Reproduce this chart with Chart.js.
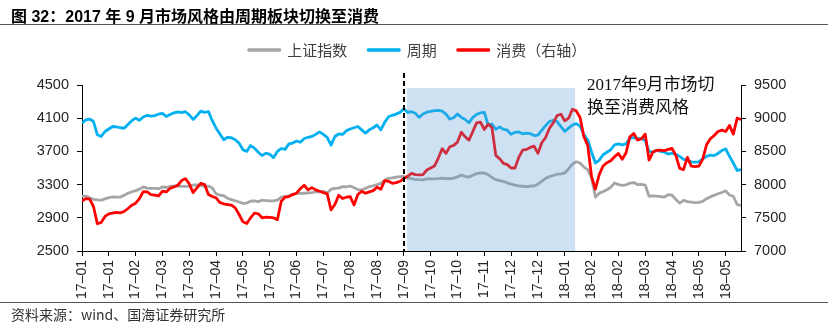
<!DOCTYPE html>
<html lang="zh-CN">
<head>
<meta charset="utf-8">
<title>2017 年 9 月市场风格由周期板块切换至消费</title>
<script src="https://cdn.jsdelivr.net/npm/chart.js@4.4.1/dist/chart.umd.min.js"></script>
<style>
  html, body { margin: 0; padding: 0; background: #fff; }
  #figure { position: relative; width: 835px; height: 324px; overflow: hidden; }
  #chart { position: absolute; left: 0; top: 0; }
  .caption { position: absolute; left: 11px; top: 3px; font: bold 16px "Liberation Sans", "Noto Sans CJK SC", sans-serif; color: #000; white-space: nowrap; }
  .rule { position: absolute; left: 0; width: 828px; height: 0; border-top: 1.5px solid #555; }
  .note { position: absolute; left: 587px; top: 73px; font: 17px/23px "Liberation Serif", "Noto Sans CJK SC", serif; color: #111; white-space: nowrap; }
  .source { position: absolute; left: 11px; top: 304px; font: 14px "Noto Sans CJK SC", sans-serif; color: #333; white-space: nowrap; }
</style>
</head>
<body>
<div id="figure">
  <canvas id="chart" width="835" height="324"></canvas>
  <div class="caption">图 32：2017 年 9 月市场风格由周期板块切换至消费</div>
  <div class="rule" style="top:24px"></div>
  <div class="note">2017年9月市场切<br>换至消费风格</div>
  <div class="rule" style="top:302px"></div>
  <div class="source">资料来源：wind、国海证券研究所</div>
</div>
<script>
// Axis labels, one every 7 samples (each sample = 2 trading days)
const tickLabels = [
  '17–01', '17–01', '17–02', '17–03', '17–03', '17–04', '17–05', '17–05',
  '17–06', '17–07', '17–08', '17–08', '17–09', '17–10', '17–10', '17–11',
  '17–12', '17–12', '18–01', '18–02', '18–02', '18–03', '18–04', '18–05', '18–05'
];

// 上证指数 (left axis)
const shanghai = [
  3160,3162,3140,3122,3115,3114,3128,3142,3152,3150,
  3150,3170,3195,3214,3228,3245,3272,3258,3255,3255,
  3250,3272,3265,3278,3283,3283,3278,3278,3278,3295,
  3295,3290,3278,3282,3258,3190,3172,3168,3135,3118,
  3105,3090,3074,3078,3100,3104,3095,3112,3108,3104,
  3103,3114,3148,3158,3165,3183,3195,3195,3196,3200,
  3204,3212,3214,3218,3200,3245,3255,3258,3275,3272,
  3283,3262,3240,3235,3255,3275,3285,3300,3315,3352,
  3376,3380,3390,3396,3398,3378,3372,3364,3360,3358,
  3368,3370,3370,3372,3378,3372,3372,3378,3392,3415,
  3400,3390,3412,3432,3440,3440,3420,3385,3360,3348,
  3340,3320,3305,3295,3285,3280,3275,3283,3283,3305,
  3340,3375,3396,3410,3425,3430,3440,3490,3548,3575,
  3560,3510,3480,3380,3150,3195,3215,3238,3268,3320,
  3300,3292,3298,3318,3325,3300,3302,3295,3160,3165,
  3160,3155,3150,3180,3172,3120,3078,3110,3095,3088,
  3082,3085,3098,3130,3152,3172,3190,3205,3225,3175,
  3160,3060,3050
];

// 周期 (left axis)
const cycle = [
  4040,4080,4090,4060,3900,3880,3940,3970,4000,3995,
  3985,3980,4025,4070,4100,4075,4115,4135,4125,4130,
  4150,4158,4120,4145,4165,4175,4168,4178,4140,4085,
  4130,4185,4170,4180,4070,3980,3910,3840,3870,3865,
  3840,3800,3720,3700,3770,3740,3690,3650,3680,3665,
  3625,3700,3735,3725,3790,3800,3825,3810,3855,3870,
  3880,3905,3935,3905,3870,3775,3880,3910,3905,3950,
  3970,3985,4000,3960,3920,3960,3985,4018,3960,4050,
  4118,4135,4150,4170,4215,4170,4178,4160,4110,4150,
  4172,4182,4190,4195,4185,4150,4090,4105,4150,4110,
  4085,4045,4110,4145,4165,4170,4020,4030,3965,3995,
  3965,3955,3905,3930,3935,3912,3920,3915,3890,3895,
  3955,4010,4060,4075,4060,3998,3940,3980,4018,4035,
  4005,3900,3840,3690,3560,3595,3660,3690,3720,3780,
  3790,3780,3790,3860,3865,3855,3855,3830,3700,3690,
  3715,3700,3690,3668,3680,3665,3640,3605,3595,3575,
  3570,3575,3610,3640,3655,3650,3675,3710,3730,3640,
  3560,3470,3480
];

// 消费 (right axis)
const consumer = [
  7750,7790,7780,7670,7410,7430,7520,7560,7570,7580,
  7575,7595,7640,7690,7720,7790,7895,7890,7850,7840,
  7830,7900,7890,7945,7965,7990,8060,8090,8010,7880,
  7950,8020,8000,7850,7820,7800,7730,7710,7700,7690,
  7650,7550,7440,7415,7500,7570,7560,7500,7510,7505,
  7500,7470,7750,7810,7820,7850,7870,7940,7990,7920,
  7955,7920,7900,7880,7860,7620,7700,7840,7790,7810,
  7820,7693,7850,7900,7870,7890,7910,7960,7930,8060,
  8050,8020,8030,8050,8090,8125,8170,8150,8145,8150,
  8220,8250,8280,8400,8540,8470,8570,8590,8640,8790,
  8720,8670,8800,8930,8940,8830,8910,8860,8440,8390,
  8320,8300,8250,8250,8410,8520,8530,8560,8580,8470,
  8630,8710,8848,8930,9040,9060,8960,9000,9134,9110,
  9010,8720,8590,8119,7930,8150,8280,8330,8360,8420,
  8470,8380,8480,8720,8770,8670,8690,8760,8370,8490,
  8515,8520,8510,8530,8546,8440,8245,8225,8410,8280,
  8270,8280,8380,8600,8690,8740,8800,8820,8800,8890,
  8760,9000,8980
];

const TICK_STEP = 7;
const sampleIndex = cycle.map((_, i) => i);

// Style switch: dashed marker at 2017-09 and the consumer-led period band
const SWITCH_AT = 84;
const BAND_FROM = 84.8;
const BAND_TO = 128.7;
const BAND_TOP = 4465;
const MARKER_TOP = 4645;

const styleSwitch = {
  id: 'styleSwitch',
  afterDatasetsDraw(chart) {
    const { ctx, chartArea, scales: { x, y } } = chart;
    const l = x.getPixelForValue(BAND_FROM);
    const r = x.getPixelForValue(BAND_TO);
    const t = y.getPixelForValue(BAND_TOP);
    ctx.save();
    ctx.fillStyle = 'rgba(91,155,213,0.3)';
    ctx.fillRect(l, t, r - l, chartArea.bottom - t);
    const xs = Math.round(x.getPixelForValue(SWITCH_AT));
    ctx.strokeStyle = '#000';
    ctx.lineWidth = 2;
    ctx.setLineDash([5, 3]);
    ctx.beginPath();
    ctx.moveTo(xs, y.getPixelForValue(MARKER_TOP));
    ctx.lineTo(xs, chartArea.bottom);
    ctx.stroke();
    ctx.restore();
  }
};

const latin = '"Liberation Sans", Arial, sans-serif';
const tickColor = '#262626';

new Chart(document.getElementById('chart'), {
  type: 'line',
  data: {
    labels: sampleIndex,
    datasets: [
      { label: '上证指数', data: shanghai, borderColor: '#a5a5a5', backgroundColor: '#a5a5a5', yAxisID: 'y', order: 3 },
      { label: '周期', data: cycle, borderColor: '#00b0f0', backgroundColor: '#00b0f0', yAxisID: 'y', order: 2 },
      { label: '消费（右轴）', data: consumer, borderColor: '#ff0000', backgroundColor: '#ff0000', yAxisID: 'y1', order: 1 }
    ]
  },
  options: {
    responsive: false,
    animation: false,
    events: [],
    layout: { padding: { top: 21.5 } },
    elements: {
      line: { borderWidth: 2.8, tension: 0, borderJoinStyle: 'round', fill: false },
      point: { radius: 0 }
    },
    plugins: {
      tooltip: { enabled: false },
      legend: {
        position: 'top',
        labels: {
          boxWidth: 31,
          boxHeight: 0.5,
          padding: 21,
          color: '#404040',
          font: { size: 15, family: '"Noto Sans CJK SC", sans-serif' },
          sort: (a, b) => a.datasetIndex - b.datasetIndex
        }
      },
      subtitle: {
        display: true,
        text: '',
        weight: 500,
        padding: { top: 8, bottom: 8.5 },
        font: { size: 1, lineHeight: 1 }
      }
    },
    scales: {
      x: {
        type: 'linear',
        min: 0,
        max: sampleIndex.length - 1,
        afterBuildTicks: (scale) => {
          scale.ticks = tickLabels.map((_, k) => ({ value: k * TICK_STEP }));
        },
        afterFit: (scale) => { scale.height = 73; },
        ticks: {
          autoSkip: false,
          minRotation: 90,
          maxRotation: 90,
          padding: 4,
          color: tickColor,
          font: { size: 14, family: latin },
          callback: (value, index) => tickLabels[index]
        },
        grid: { drawOnChartArea: false, tickLength: 5, color: '#000', lineWidth: 1 },
        border: { color: '#000', width: 1 }
      },
      y: {
        position: 'left',
        min: 2500,
        max: 4500,
        afterFit: (scale) => { scale.width = 82; },
        ticks: {
          stepSize: 400,
          padding: 8,
          color: tickColor,
          font: { size: 14.5, family: latin },
          callback: (v) => String(v)
        },
        grid: { drawOnChartArea: false, tickLength: 5, color: '#000', lineWidth: 1 },
        border: { color: '#000', width: 1 }
      },
      y1: {
        position: 'right',
        min: 7000,
        max: 9500,
        afterFit: (scale) => { scale.width = 94; },
        ticks: {
          stepSize: 500,
          padding: 8,
          color: tickColor,
          font: { size: 14.5, family: latin },
          callback: (v) => String(v)
        },
        grid: { drawOnChartArea: false, tickLength: 5, color: '#000', lineWidth: 1 },
        border: { color: '#000', width: 1 }
      }
    }
  },
  plugins: [styleSwitch]
});
</script>
</body>
</html>
